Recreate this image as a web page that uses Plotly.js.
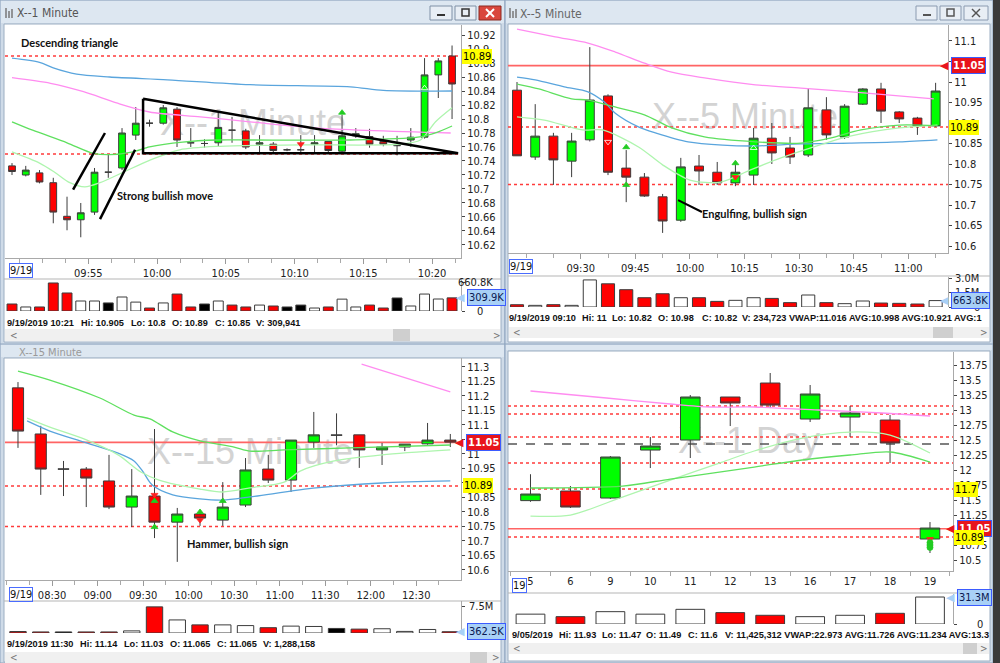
<!DOCTYPE html>
<html>
<head>
<meta charset="utf-8">
<script src="https://cdn.plot.ly/plotly-3.0.1.min.js"></script>
<style>
html,body{margin:0;padding:0;background:#cfdbe8;overflow:hidden;}
#chart{width:1000px;height:663px;}
</style>
</head>
<body>
<div id="chart"></div>
<script>
// ===================== DATA =====================
// ---- Window 1: "X--1 Minute", 9/19/2019, 1-minute bars 09:49 - 10:21 ----
const m1Times  = ['09:49','09:50','09:51','09:52','09:53','09:54','09:55','09:56','09:57','09:58','09:59','10:00','10:01','10:02','10:03','10:04','10:05','10:06','10:07','10:08','10:09','10:10','10:11','10:12','10:13','10:14','10:15','10:16','10:17','10:18','10:19','10:20','10:21'];
const m1Open   = [10.733,10.72,10.723,10.709,10.661,10.656,10.667,10.724,10.73,10.777,10.794,10.794,10.814,10.766,10.765,10.766,10.784,10.783,10.764,10.764,10.756,10.756,10.764,10.768,10.754,10.776,10.775,10.768,10.762,10.77,10.774,10.863,10.89];
const m1High   = [10.737,10.733,10.727,10.716,10.689,10.68,10.73,10.749,10.787,10.817,10.799,10.82,10.817,10.787,10.771,10.809,10.803,10.786,10.777,10.767,10.758,10.777,10.777,10.768,10.806,10.787,10.786,10.776,10.776,10.787,10.887,10.887,10.905];
const m1Low    = [10.72,10.718,10.708,10.651,10.641,10.631,10.663,10.716,10.727,10.77,10.789,10.792,10.76,10.76,10.759,10.76,10.766,10.757,10.751,10.751,10.754,10.751,10.751,10.751,10.751,10.773,10.759,10.761,10.748,10.76,10.772,10.83,10.8];
const m1Close  = [10.725,10.727,10.71,10.667,10.656,10.666,10.724,10.724,10.78,10.794,10.794,10.816,10.77,10.766,10.765,10.788,10.784,10.76,10.766,10.755,10.756,10.756,10.766,10.755,10.776,10.779,10.764,10.764,10.762,10.774,10.863,10.883,10.85];
const m1Volume = [165000,95000,95000,660800,425000,236000,236000,190000,330000,210000,70000,190000,400000,95000,165000,236000,140000,95000,140000,118000,95000,140000,70000,95000,280000,95000,140000,70000,307000,118000,400000,283000,309941];
const m1VolDir = ['d','u','d','d','d','u','u','f','u','u','d','u','d','d','f','u','d','d','u','d','f','f','u','d','u','u','d','d','f','u','u','u','d'];
const m1TickText = ['09:55','10:00','10:05','10:10','10:15','10:20'];
const m1TickBar  = [6,11,16,21,26,31];
const m1PriceTicks = [10.62,10.64,10.66,10.68,10.7,10.72,10.74,10.76,10.78,10.8,10.82,10.84,10.86,10.88,10.9,10.92];
const m1PriceText  = ['10.62','10.64','10.66','10.68','10.7','10.72','10.74','10.76','10.78','10.8','10.82','10.84','10.86','10.88','10.9','10.92'];
const m1BlueX  = [0,2,3,4.7,7.1,11.3,17.3,24.6,27,32];
const m1BlueY  = [10.887,10.881,10.873,10.864,10.86,10.856,10.849,10.846,10.841,10.84];
const m1PinkX  = [0,2.8,5.2,7.6,10,13.7,17.3,22.2,31.9];
const m1PinkY  = [10.859,10.851,10.839,10.823,10.81,10.803,10.796,10.787,10.78];
const m1GreenX = [0,1.5,4,5.9,7.1,8.8,10,12.4,14.9,17.3,24.6,29.5,30.9,32];
const m1GreenY = [10.796,10.784,10.766,10.751,10.749,10.753,10.76,10.767,10.77,10.77,10.77,10.774,10.781,10.79];
const m1PaleX  = [0,2,3.1,4.2,5.3,6.4,8.1,10,12.2,15.1,21,28.2,29.7,30.8,32];
const m1PaleY  = [10.753,10.737,10.724,10.709,10.703,10.709,10.724,10.741,10.756,10.761,10.763,10.764,10.77,10.796,10.816];
const m1Dotted = [10.89,10.75];
const m1TriX = [9.53,32.44,9.53,9.53];
const m1TriY = [10.829,10.751,10.751,10.829];
const m1MoveX = [4.44,6.76,null,6.4,8.95];
const m1MoveY = [10.699,10.78,null,10.657,10.756];
const m1MarkX = [30,24,21];
const m1MarkY = [10.844,10.809,10.764];
const m1MarkSym = ['triangle-up-open','triangle-up','triangle-down'];
const m1MarkCol = ['#ffffff','#22cc22','#ff2020'];
const m1Info = ['9/19/2019 10:21','Hi: 10.905','Lo: 10.8','O: 10.89','C: 10.85','V: 309,941'];

// ---- Window 2: "X--5 Minute", 5-minute bars 09:10 - 11:05 ----
const m5Times  = ['09:10','09:15','09:20','09:25','09:30','09:35','09:40','09:45','09:50','09:55','10:00','10:05','10:10','10:15','10:20','10:25','10:30','10:35','10:40','10:45','10:50','10:55','11:00','11:05'];
const m5Open   = [10.98,10.817,10.868,10.807,10.859,10.966,10.79,10.768,10.72,10.663,10.795,10.78,10.754,10.773,10.863,10.839,10.822,10.932,10.866,10.946,10.983,10.927,10.912,10.893];
const m5High   = [11.0,10.946,10.876,10.876,11.085,10.97,10.834,10.778,10.727,10.815,10.822,10.805,10.802,10.888,10.9,10.866,10.985,10.963,10.946,10.985,10.998,10.929,10.915,10.998];
const m5Low    = [10.82,10.81,10.749,10.768,10.855,10.773,10.707,10.72,10.632,10.659,10.749,10.749,10.746,10.749,10.8,10.8,10.817,10.859,10.861,10.944,10.9,10.9,10.871,10.89];
const m5Close  = [10.82,10.868,10.81,10.856,10.956,10.78,10.768,10.722,10.661,10.793,10.783,10.754,10.78,10.863,10.827,10.817,10.937,10.871,10.941,10.983,10.929,10.91,10.893,10.978];
const m5Volume = [234723,170000,240000,170000,2800000,2400000,1790000,960000,1370000,960000,960000,580000,690000,960000,890000,450000,1240000,450000,345000,620000,410000,380000,310000,663800];
const m5VolDir = ['d','u','d','u','u','d','d','d','d','u','d','d','u','u','d','d','u','d','u','u','d','d','d','u'];
const m5TickText = ['09:30','09:45','10:00','10:15','10:30','10:45','11:00'];
const m5TickBar  = [4,7,10,13,16,19,22];
const m5PriceTicks = [10.6,10.65,10.7,10.75,10.8,10.85,10.9,10.95,11,11.05,11.1];
const m5PriceText  = ['10.6','10.65','10.7','10.75','10.8','10.85','10.9','10.95','11','11.05','11.1'];
const m5PinkX  = [0,2.1,3.9,5.4,7,8.5,10.3,13.1,15.6,19.2,22.9];
const m5PinkY  = [11.129,11.11,11.095,11.073,11.046,11.024,11.01,10.993,10.985,10.973,10.959];
const m5BlueX  = [0,1,2.6,3.9,4.8,5.4,6.7,7.6,9.4,11.3,13.1,15.6,18.3,21,23.1];
const m5BlueY  = [11.012,11.005,10.988,10.976,10.951,10.924,10.89,10.876,10.854,10.846,10.844,10.849,10.851,10.854,10.859];
const m5GreenX = [0,1.2,3,3.9,5.2,7,8.5,10.3,13.1,15.6,17.2,18.9,21,23.1];
const m5GreenY = [10.995,10.983,10.959,10.956,10.941,10.92,10.888,10.866,10.854,10.851,10.863,10.883,10.895,10.893];
const m5PaleX  = [0,1.5,3.6,4.7,6.7,8,9.5,11.2,12.8,14.5,16.1,18.3,21,23.1];
const m5PaleY  = [10.915,10.907,10.883,10.883,10.841,10.798,10.761,10.756,10.785,10.815,10.839,10.868,10.888,10.895];
const m5Solid  = [11.04];
const m5Dotted = [10.89,10.75];
const m5PointerX = [8.85,10.16];
const m5PointerY = [10.712,10.683];
const m5MarkX = [5,6,6,12,12,13];
const m5MarkY = [10.854,10.841,10.749,10.802,10.768,10.839];
const m5MarkSym = ['triangle-down-open','triangle-up','triangle-up','triangle-up','triangle-down','triangle-up-open'];
const m5MarkCol = ['#ffffff','#22cc22','#22cc22','#22cc22','#ff2020','#ffffff'];
const m5Info = ['9/19/2019 09:10','Hi: 11','Lo: 10.82','O: 10.98','C: 10.82','V: 234,723','VWAP:11.016','AVG:10.998','AVG:10.921','AVG:1'];

// ---- Window 3: "X--15 Minute", 15-minute bars 08:00 - 12:45 ----
const m15Times  = ['08:00','08:15','08:30','08:45','09:00','09:15','09:30','09:45','10:00','10:15','10:30','10:45','11:00','11:15','11:30','11:45','12:00','12:15','12:30','12:45'];
const m15Open   = [11.228,11.069,10.948,10.948,10.907,10.817,10.855,10.765,10.793,10.772,10.824,10.948,10.91,11.041,11.065,11.066,11.014,11.024,11.035,11.048];
const m15High   = [11.248,11.097,10.976,10.955,10.997,10.948,11.086,10.814,10.803,10.903,10.986,10.997,11.048,11.145,11.14,11.066,11.038,11.034,11.107,11.069];
const m15Low    = [11.021,10.859,10.855,10.817,10.81,10.748,10.71,10.628,10.752,10.752,10.817,10.9,10.869,11.021,11.03,10.952,10.962,11.01,11.032,11.024];
const m15Close  = [11.079,10.948,10.948,10.917,10.817,10.855,10.765,10.793,10.779,10.817,10.945,10.91,11.048,11.066,11.065,11.014,11.024,11.034,11.048,11.041];
const m15Volume = [420000,300000,300000,300000,300000,600000,7400000,3700000,2300000,2300000,2100000,1500000,1950000,1850000,1288158,1100000,1200000,450000,1000000,362500];
const m15VolDir = ['d','d','f','d','d','u','d','u','d','u','u','d','u','u','f','d','u','u','u','d'];
const m15TickText = ['08:30','09:00','09:30','10:00','10:30','11:00','11:30','12:00','12:30'];
const m15TickBar  = [2,4,6,8,10,12,14,16,18];
const m15PriceTicks = [10.6,10.65,10.7,10.75,10.8,10.85,10.9,10.95,11,11.05,11.1,11.15,11.2,11.25,11.3];
const m15PriceText  = ['10.6','10.65','10.7','10.75','10.8','10.85','10.9','10.95','11','11.05','11.1','11.15','11.2','11.25','11.3'];
const m15GreenX = [0,1.4,3.6,5.1,5.8,6.8,8,9.5,10.2,11.7,14.6,19];
const m15GreenY = [11.286,11.255,11.193,11.134,11.121,11.076,11.045,11.024,11.01,11.014,11.021,11.031];
const m15PaleX  = [0.4,1.4,2.9,4.4,5.4,6.2,8,9,10.2,11.7,12.4,13.9,16,19];
const m15PaleY  = [11.124,11.093,11.052,10.997,10.938,10.91,10.879,10.869,10.883,10.903,10.941,10.976,10.997,11.014];
const m15BlueX  = [0.4,1.4,2.9,4.4,5.1,5.5,5.9,6.8,8,9,10.2,13.1,16,19];
const m15BlueY  = [11.114,11.079,11.041,11.003,10.976,10.938,10.893,10.859,10.845,10.841,10.852,10.883,10.9,10.907];
const m15PinkX  = [15.1,19];
const m15PinkY  = [11.31,11.214];
const m15Solid  = [11.04];
const m15Dotted = [10.89,10.75];
const m15MarkX = [6,6,6,8,8,9];
const m15MarkY = [10.859,10.838,10.748,10.8,10.772,10.838];
const m15MarkSym = ['triangle-down','triangle-up','triangle-up','triangle-up','triangle-down','triangle-up'];
const m15MarkCol = ['#ff2020','#22cc22','#22cc22','#22cc22','#ff2020','#22cc22'];
const m15Info = ['9/19/2019 11:30','Hi: 11.14','Lo: 11.03','O: 11.065','C: 11.065','V: 1,288,158'];

// ---- Window 4: "X--1 Day", daily bars Sep 5 - Sep 19 ----
const dLabels = ['5','6','9','10','11','12','13','16','17','18','19'];
const dOpen   = [11.49,11.65,11.533,12.333,12.5,13.217,13.45,12.85,12.883,12.833,10.85];
const dHigh   = [11.93,11.733,12.233,12.55,13.25,13.217,13.617,13.417,13.067,12.917,11.133];
const dLow    = [11.47,11.367,11.517,12.033,12.2,12.733,13.033,12.8,12.55,12.117,10.617];
const dClose  = [11.6,11.383,12.217,12.4,13.217,13.117,13.083,13.267,12.95,12.45,11.033];
const dVolume = [11425312,8500000,14300000,11400000,17000000,13200000,10100000,8500000,10100000,12400000,31300000];
const dVolDir = ['u','d','u','u','u','d','d','u','u','d','u'];
const dPriceTicks = [10.5,10.75,11,11.25,11.5,11.75,12,12.25,12.5,12.75,13,13.25,13.5,13.75];
const dPriceText  = ['10.5','10.75','11','11.25','11.5','11.75','12','12.25','12.5','12.75','13','13.25','13.5','13.75'];
const dPinkX  = [0,1.9,3.5,4.5,5.6,7.2,8.8,10];
const dPinkY  = [13.317,13.2,13.1,13.05,13.05,13.0,12.95,12.9];
const dGreenX = [0,2.3,3.5,5.6,6.8,8,9,10];
const dGreenY = [11.7,11.733,11.85,12.05,12.167,12.25,12.3,12.133];
const dPaleX  = [0,1,2.3,3.5,4.8,5.6,6.8,8,9,10];
const dPaleY  = [11.233,11.25,11.55,11.833,12.133,12.317,12.533,12.633,12.583,12.283];
const dSolid  = [11.02];
const dDotted = [13.067,12.933,12.55,12.117,11.683,10.883];
const dDashed = [12.433];
const dMarkX = [10,10,10,10];
const dMarkY = [10.85,10.79,10.75,10.71];
const dMarkSym = ['triangle-down','circle','circle','circle'];
const dMarkCol = ['#ff2020','#22cc22','#22cc22','#22cc22'];
const dInfo = ['9/05/2019','Hi: 11.93','Lo: 11.47','O: 11.49','C: 11.6','V: 11,425,312','VWAP:22.973','AVG:11.726','AVG:11.234','AVG:13.3'];

// ===================== BUILD =====================
const W = 1000, H = 663;
const px = v => v / W;
const py = v => 1 - v / H;
const FN = '"Liberation Sans Narrow","Arial Narrow","DejaVu Sans Condensed","Liberation Sans",sans-serif';
const FA = '"Liberation Sans",Arial,sans-serif';
const FL = 'Lato,"Open Sans",sans-serif';
const VOLCOL = {u:'#ffffff', d:'#ff0000', f:'#000000'};
const C_BLUE = '#5aa5dd', C_PINK = '#ff8cf0', C_GREEN = '#5fe05f', C_PALE = '#aef5ae';

const traces = [], shapes = [], annotations = [];
const layout = {
  width: W, height: H, margin: {l:0, r:0, t:0, b:0, pad:0},
  paper_bgcolor: '#cfdbe8', plot_bgcolor: 'rgba(0,0,0,0)',
  showlegend: false, boxgap: 0.3, bargap: 0.28, hovermode: false, dragmode: false,
  shapes, annotations
};

function rect(x0,y0,x1,y1,fill,line,lw){
  shapes.push({type:'rect',xref:'paper',yref:'paper',x0:px(x0),x1:px(x1),y0:py(y1),y1:py(y0),
    fillcolor:fill,line:{color:line||'rgba(0,0,0,0)',width:lw||0},layer:'below'});
}
function seg(x0,y0,x1,y1,color,w,layer){
  shapes.push({type:'line',xref:'paper',yref:'paper',x0:px(x0),x1:px(x1),y0:py(y0),y1:py(y1),
    line:{color:color,width:w||1},layer:layer||'below'});
}
function text(x,y,t,opt){
  opt = opt || {};
  annotations.push({xref:'paper',yref:'paper',x:px(x),y:py(y),text:t,showarrow:false,
    xanchor:opt.anchor||'left',yanchor:'middle',borderpad:0,
    font:{family:opt.family||FN,size:opt.size||11,color:opt.color||'#111',weight:opt.weight||'normal'},
    bordercolor:opt.border||'rgba(0,0,0,0)',borderwidth:opt.border?1:0,bgcolor:opt.bg||'rgba(0,0,0,0)'});
}
function watermark(cx,cy,t){
  shapes.push({type:'rect',xref:'paper',yref:'paper',x0:px(cx-120),x1:px(cx+120),y0:py(cy+24),y1:py(cy-24),
    fillcolor:'rgba(0,0,0,0)',line:{width:0},layer:'below',
    label:{text:t,textposition:'middle center',font:{family:FA,size:36,color:'#d3d3d3'}}});
}
function tag(xl, yref, val, t, kind){
  const st = {
    yellow:{bg:'#ffff00', fc:'#000', border:'rgba(0,0,0,0)', bold:'normal'},
    red:{bg:'#e8141c', fc:'#ffffff', border:'#3b5bff', bold:'bold'},
    blue:{bg:'#a8d0f6', fc:'#0a1850', border:'#3b5bff', bold:'normal'}
  }[kind];
  if (kind !== 'yellow') {
    annotations.push({xref:'paper',yref:yref,x:px(xl-1),y:val,text:'\u25C0',showarrow:false,xanchor:'right',yanchor:'middle',
      font:{family:'DejaVu Sans',size:11,color:st.bg},borderpad:0});
  }
  annotations.push({xref:'paper',yref:yref,x:px(xl),y:val,text:t,showarrow:false,xanchor:'left',yanchor:'middle',
    font:{family:FN,size:11,color:st.fc,weight:st.bold},bgcolor:st.bg,bordercolor:st.border,
    borderwidth:kind==='yellow'?0:1,borderpad:1});
}
function vlabel(xr, yref, val, t){
  annotations.push({xref:'paper',yref:yref,x:px(xr),y:val,text:t,showarrow:false,xanchor:'right',yanchor:'middle',
    font:{family:FN,size:11,color:'#222'},borderpad:0});
}

// ---------- window chrome (drawn below the plots) ----------
rect(0,0,505,345,'#cfdbe8','#8ea4be',1);
rect(1,1,504,23,'#dde7f1');
rect(4,24,501,342,'#ffffff','#9caec2',1);
rect(505,0,993,345,'#cfdbe8','#8ea4be',1);
rect(506,1,992,23,'#dde7f1');
rect(508,24,990,342,'#ffffff','#9caec2',1);
rect(0,344,505,663,'#cfdbe8','#8ea4be',1);
rect(1,345,504,357,'#dde7f1');
rect(4,358,501,662,'#ffffff','#9caec2',1);
rect(505,344,993,663,'#cfdbe8','#8ea4be',1);
rect(506,345,992,350,'#dde7f1');
rect(508,351,990,661,'#ffffff','#9caec2',1);
rect(993,0,1000,663,'#3a3a3a');
seg(4,279,501,279,'#b5b5b5');
seg(508,276,990,276,'#b5b5b5');
seg(4,601,501,601,'#b5b5b5');
seg(508,593,990,593,'#b5b5b5');
rect(5,329,500,341,'#f0f0f0'); rect(393,329,410,341,'#cfcfcf');
rect(509,327,989,338,'#f0f0f0'); rect(933,327,953,338,'#cfcfcf');
rect(5,652,500,663,'#f0f0f0'); rect(470,652,487,663,'#cfcfcf');
rect(509,643,989,654,'#f0f0f0'); rect(963,643,977,654,'#cfcfcf');
rect(430,6,452,20,'#e8eef5','#7f90a6',1); rect(455,6,476,20,'#e8eef5','#7f90a6',1); rect(479,6,501,20,'#d9473d','#8c2a22',1);
seg(437,15,445,15,'#333',2,'above');
rect(462,9,469,16,'rgba(0,0,0,0)','#333',1.5);
seg(486,9,494,17,'#fff',2,'above'); seg(494,9,486,17,'#fff',2,'above');
rect(916,6,937,20,'#e8eef5','#8a9ab0',1); rect(940,6,961,20,'#e8eef5','#8a9ab0',1); rect(964,6,988,20,'#e8eef5','#8a9ab0',1);
seg(923,15,931,15,'#555',2,'above');
rect(947,9,954,16,'rgba(0,0,0,0)','#555',1.5);
seg(972,9,980,17,'#555',1.5,'above'); seg(980,9,972,17,'#555',1.5,'above');
// small chart icons in title bars
seg(6,8,6,18,'#777',1.5,'above'); seg(9,11,9,18,'#777',1.5,'above'); seg(12,9,12,18,'#777',1.5,'above');
seg(510,8,510,18,'#777',1.5,'above'); seg(513,11,513,18,'#777',1.5,'above'); seg(516,9,516,18,'#777',1.5,'above');
watermark(253,119,'X--1 Minute');
watermark(745,113,'X--5 Minute');
watermark(250,448,'X--15 Minute');
watermark(749,437,'X--1 Day');

// ---------- panels ----------
function panel(o){
  const xk = 'xaxis' + o.xa.slice(1), yk = 'yaxis' + o.ya.slice(1);
  const vxk = 'xaxis' + o.vxa.slice(1), vyk = 'yaxis' + o.vya.slice(1);
  const ix = o.open.map((_, i) => i);
  traces.push({type:'candlestick', x:ix, open:o.open, high:o.high, low:o.low, close:o.close,
    xaxis:o.xa, yaxis:o.ya, whiskerwidth:0, hoverinfo:'skip',
    increasing:{line:{color:'#3c3c3c',width:1}, fillcolor:'#00ff00'},
    decreasing:{line:{color:'#3c3c3c',width:1}, fillcolor:'#ff0000'}});
  traces.push({type:'bar', x:ix, y:o.vol, xaxis:o.vxa, yaxis:o.vya, hoverinfo:'skip',
    marker:{color:o.dir.map(d => VOLCOL[d]), line:{color:'#3c3c3c', width:1}}});
  o.mas.forEach(m => traces.push({type:'scatter', mode:'lines', x:m[0], y:m[1], xaxis:o.xa, yaxis:o.ya,
    hoverinfo:'skip', line:{color:m[2], width:1.3, shape:'spline', smoothing:0.8}}));
  if (o.marks) traces.push({type:'scatter', mode:'markers', x:o.marks[0], y:o.marks[1], xaxis:o.xa, yaxis:o.ya,
    hoverinfo:'skip', marker:{symbol:o.marks[2], color:o.marks[3], size:6, line:{width:0.8, color:o.marks[3]}}});
  const tf = {family:FN, size:11, color:'#222'};
  layout[xk] = {domain:[px(o.x0), px(o.x1)], range:o.xr, anchor:o.ya, fixedrange:true,
    tickmode:'array', tickvals:o.xtv, ticktext:o.xtt, ticks:o.xticklen ? 'outside' : '', ticklen:o.xticklen || 0,
    tickcolor:'#9a9a9a', tickfont:tf, showline:true, linecolor:'#a9a9a9', linewidth:1,
    showgrid:false, zeroline:false, rangeslider:{visible:false},
    minor:{tickmode:'array', tickvals:o.minor, ticks:'outside', ticklen:4, tickcolor:'#a9a9a9', showgrid:false}};
  layout[yk] = {domain:[py(o.bot), py(o.top)], range:o.yr, anchor:o.xa, side:'right', fixedrange:true,
    tickmode:'array', tickvals:o.ytv, ticktext:o.ytt, ticks:'outside', ticklen:3, tickcolor:'#444',
    tickfont:tf, showline:true, linecolor:'#a9a9a9', linewidth:1, showgrid:false, zeroline:false};
  layout[vxk] = {domain:[px(o.x0), px(o.x1)], range:o.xr, anchor:o.vya, fixedrange:true,
    showticklabels:false, ticks:'', showline:false, showgrid:false, zeroline:false};
  layout[vyk] = {domain:[py(o.vbot), py(o.vtop)], range:o.vr, anchor:o.vxa, side:'right', fixedrange:true,
    showticklabels:false, tickmode:'array', tickvals:o.vtv, ticks:'outside', ticklen:3, tickcolor:'#444',
    showline:true, linecolor:'#a9a9a9', linewidth:1, showgrid:false, zeroline:false};
  (o.dotted || []).forEach(v => shapes.push({type:'line', xref:o.xa + ' domain', x0:0, x1:1, yref:o.ya, y0:v, y1:v,
    line:{color:'#ff3b3b', width:1.5, dash:'dot'}, layer:'below'}));
  (o.solid || []).forEach(v => shapes.push({type:'line', xref:o.xa + ' domain', x0:0, x1:1, yref:o.ya, y0:v, y1:v,
    line:{color:'#ff6464', width:1.6}, layer:'below'}));
  (o.dashed || []).forEach(v => shapes.push({type:'line', xref:o.xa + ' domain', x0:0, x1:1, yref:o.ya, y0:v, y1:v,
    line:{color:'#555555', width:1.5, dash:'dash'}, layer:'below'}));
}

const arr = (n, f) => Array.from({length:n}, (_, k) => f(k));

panel({xa:'x', ya:'y', vxa:'x2', vya:'y2', x0:5, x1:461, top:25, bot:258, vtop:279, vbot:311,
  xr:[-0.51, 32.65], yr:[10.6014, 10.9343], vr:[0, 755000],
  open:m1Open, high:m1High, low:m1Low, close:m1Close, vol:m1Volume, dir:m1VolDir,
  xtv:m1TickBar.map(b => b - 0.45), xtt:m1TickText, xticklen:5, minor:arr(20, k => 0.55 + k * 5 / 3),
  ytv:m1PriceTicks, ytt:m1PriceText, vtv:[0, 660800],
  mas:[[m1BlueX,m1BlueY,C_BLUE],[m1PinkX,m1PinkY,C_PINK],[m1PaleX,m1PaleY,C_PALE],[m1GreenX,m1GreenY,C_GREEN]],
  marks:[m1MarkX,m1MarkY,m1MarkSym,m1MarkCol], dotted:m1Dotted});
traces.push({type:'scatter', mode:'lines', x:m1TriX, y:m1TriY, xaxis:'x', yaxis:'y', hoverinfo:'skip', line:{color:'#000', width:2.5}});
traces.push({type:'scatter', mode:'lines', x:m1MoveX, y:m1MoveY, xaxis:'x', yaxis:'y', hoverinfo:'skip', line:{color:'#000', width:2.5}});

panel({xa:'x3', ya:'y3', vxa:'x4', vya:'y4', x0:508, x1:948, top:25, bot:253, vtop:277, vbot:307,
  xr:[-0.495, 23.68], yr:[10.583, 11.139], vr:[0, 3103000],
  open:m5Open, high:m5High, low:m5Low, close:m5Close, vol:m5Volume, dir:m5VolDir,
  xtv:m5TickBar.map(b => b - 0.5), xtt:m5TickText, xticklen:5, minor:arr(16, k => 0.5 + k * 1.5),
  ytv:m5PriceTicks, ytt:m5PriceText, vtv:[0, 1500000, 3000000],
  mas:[[m5PinkX,m5PinkY,C_PINK],[m5BlueX,m5BlueY,C_BLUE],[m5PaleX,m5PaleY,C_PALE],[m5GreenX,m5GreenY,C_GREEN]],
  marks:[m5MarkX,m5MarkY,m5MarkSym,m5MarkCol], dotted:m5Dotted, solid:m5Solid});
traces.push({type:'scatter', mode:'lines', x:m5PointerX, y:m5PointerY, xaxis:'x3', yaxis:'y3', hoverinfo:'skip', line:{color:'#000', width:2}});

panel({xa:'x5', ya:'y5', vxa:'x6', vya:'y6', x0:5, x1:461, top:358, bot:580, vtop:601, vbot:633,
  xr:[-0.571, 19.47], yr:[10.5655, 11.331], vr:[0, 9060000],
  open:m15Open, high:m15High, low:m15Low, close:m15Close, vol:m15Volume, dir:m15VolDir,
  xtv:m15TickBar.map(b => b - 0.5), xtt:m15TickText, xticklen:5, minor:arr(20, k => -0.5 + k),
  ytv:m15PriceTicks, ytt:m15PriceText, vtv:[7500000],
  mas:[[m15PinkX,m15PinkY,C_PINK],[m15BlueX,m15BlueY,C_BLUE],[m15PaleX,m15PaleY,C_PALE],[m15GreenX,m15GreenY,C_GREEN]],
  marks:[m15MarkX,m15MarkY,m15MarkSym,m15MarkCol], dotted:m15Dotted, solid:m15Solid});

panel({xa:'x7', ya:'y7', vxa:'x8', vya:'y8', x0:508, x1:953, top:352, bot:571, vtop:594, vbot:624,
  xr:[-0.563, 10.576], yr:[10.317, 13.967], vr:[0, 34800000],
  open:dOpen, high:dHigh, low:dLow, close:dClose, vol:dVolume, dir:dVolDir,
  xtv:dLabels.map((_, i) => i), xtt:dLabels, xticklen:0, minor:arr(12, k => -0.5 + k),
  ytv:dPriceTicks, ytt:dPriceText, vtv:[0],
  mas:[[dPinkX,dPinkY,C_PINK],[dPaleX,dPaleY,C_PALE],[dGreenX,dGreenY,C_GREEN]],
  marks:[dMarkX,dMarkY,dMarkSym,dMarkCol], dotted:dDotted, solid:dSolid, dashed:dDashed});

// ---------- texts ----------
text(17,13,'X--1 Minute',{color:'#555',size:12});
text(520,14,'X--5 Minute',{color:'#666',size:12});
text(19,352,'X--15 Minute',{color:'#999',size:11});
text(21,43,'Descending triangle',{family:FL,size:11,weight:'bold',color:'#111'});
text(117,195,'Strong bullish move',{family:FL,size:11,weight:'bold',color:'#111'});
text(702,214,'Engulfing, bullish sign',{family:FL,size:11,weight:'bold',color:'#111'});
text(187,543,'Hammer, bullish sign',{family:FL,size:11,weight:'bold',color:'#111'});
text(9,270,'9/19',{border:'#4a6cff'});
text(509,266,'9/19',{border:'#4a6cff'});
text(9,594,'9/19',{border:'#4a6cff'});
text(512,585,'19',{border:'#4a6cff'});
// info lines: first five fields placed at their columns, the rest follow in one run
function infoLine(fields, xs, y){
  const head = fields.slice(0, 5), tail = fields.slice(5).join(' ');
  head.forEach((t, i) => text(xs[i], y, t, {family:FA, weight:'bold', size:9.2, color:'#111'}));
  text(xs[5], y, tail, {family:FA, weight:'bold', size:9.2, color:'#111'});
}
infoLine(m1Info,  [7,81,131,172,215,256], 323);
infoLine(m5Info,  [509,582,612,658,702,742], 318);
infoLine(m15Info, [7,80,124,170,217,263], 644);
infoLine(dInfo,   [512,559,602,646,688,725], 635);
[[10,335],[513,332],[10,657],[513,648]].forEach(p => text(p[0], p[1], '<', {color:'#777', size:10}));
[[493,335],[980,332],[492,657],[980,648]].forEach(p => text(p[0], p[1], '>', {color:'#777', size:10}));
vlabel(494,'y2',660800,'660.8K'); vlabel(484,'y2',0,'0');
vlabel(980,'y4',3000000,'3.0M'); vlabel(980,'y4',1500000,'1.5M'); vlabel(981,'y4',0,'0');
vlabel(494,'y6',7500000,'7.5M');
vlabel(984,'y8',0,'0');
tag(462,'y',m1Dotted[0],'10.89','yellow');
tag(467,'y2',m1Volume[m1Volume.length-1],'309.9K','blue');
tag(951,'y3',m5Solid[0],'11.05','red');
tag(949,'y3',m5Dotted[0],'10.89','yellow');
tag(951,'y4',m5Volume[m5Volume.length-1],'663.8K','blue');
tag(466,'y5',m15Solid[0],'11.05','red');
tag(463,'y5',m15Dotted[0],'10.89','yellow');
tag(467,'y6',m15Volume[m15Volume.length-1],'362.5K','blue');
tag(957,'y7',dSolid[0],'11.05','red');
tag(954,'y7',dDotted[5],'10.89','yellow');
tag(954,'y7',dDotted[4],'11.7','yellow');
tag(957,'y8',dVolume[dVolume.length-1],'31.3M','blue');

Plotly.newPlot('chart', traces, layout, {staticPlot:true, displayModeBar:false});
</script>
</body>
</html>
